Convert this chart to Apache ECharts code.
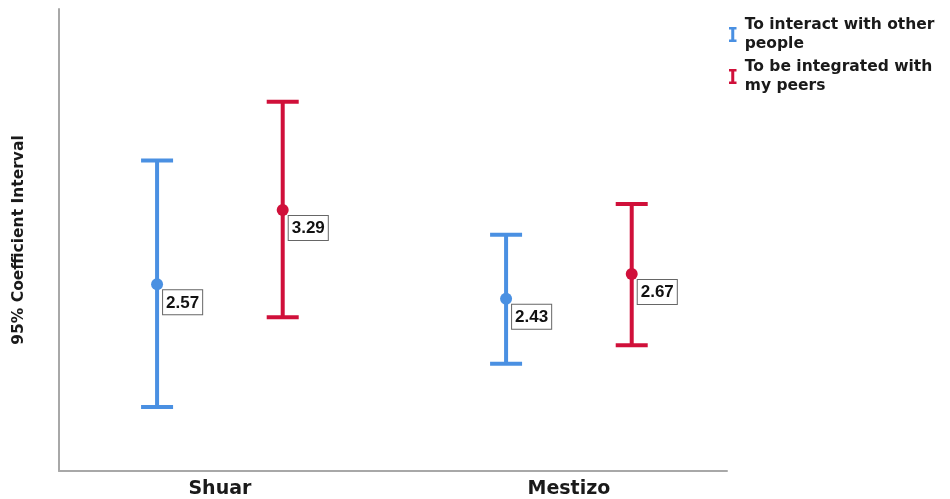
<!DOCTYPE html>
<html>
<head>
<meta charset="utf-8">
<script src="https://cdn.jsdelivr.net/npm/echarts@6/dist/echarts.min.js"></script>
<style>
  html, body { margin: 0; padding: 0; background: #fff; }
  #chart { width: 950px; height: 499px; }
</style>
</head>
<body>
<div id="chart"></div>
<script>
// Groups along the horizontal axis
const categories = ['Shuar', 'Mestizo'];

// "To interact with other people": mean and 95% interval bounds
const interactMean = [2.57, 2.43];
const interactLow  = [1.38, 1.80];
const interactHigh = [3.77, 3.05];

// "To be integrated with my peers": mean and 95% interval bounds
const integratedMean = [3.29, 2.67];
const integratedLow  = [2.25, 1.98];
const integratedHigh = [4.34, 3.35];

const seriesNames = ['To interact with other people', 'To be integrated with my peers'];
const legendLabels = ['To interact with other\npeople', 'To be integrated with\nmy peers'];
const colors = ['#4a90e2', '#d0103a'];

const wideFont = '"DejaVu Sans", sans-serif';
const valueFont = 'bold 17px "Liberation Sans", Arial, sans-serif';

function rows(mean, low, high) {
  return categories.map((c, i) => [i + 1, low[i], mean[i], high[i]]);
}

// Error bar: vertical stem, two caps, a dot at the mean and a boxed value label
function makeRenderer(offset, color) {
  return function (params, api) {
    const x = api.value(0) + offset;
    const lo = api.coord([x, api.value(1)]);
    const mid = api.coord([x, api.value(2)]);
    const hi = api.coord([x, api.value(3)]);
    const cap = 16;
    const line = { stroke: color, lineWidth: 4 };
    return {
      type: 'group',
      children: [
        { type: 'line', shape: { x1: hi[0], y1: hi[1], x2: lo[0], y2: lo[1] }, style: line },
        { type: 'line', shape: { x1: hi[0] - cap, y1: hi[1], x2: hi[0] + cap, y2: hi[1] }, style: line },
        { type: 'line', shape: { x1: lo[0] - cap, y1: lo[1], x2: lo[0] + cap, y2: lo[1] }, style: line },
        { type: 'circle', shape: { cx: mid[0], cy: mid[1], r: 6 }, style: { fill: color } },
        {
          type: 'text',
          x: mid[0] + 6,
          y: mid[1] + 6,
          style: {
            text: api.value(2).toFixed(2),
            font: valueFont,
            fill: '#111',
            align: 'left',
            verticalAlign: 'top',
            backgroundColor: '#fff',
            borderColor: '#666',
            borderWidth: 1,
            padding: [4, 3, 3, 3]
          }
        }
      ]
    };
  };
}

const chart = echarts.init(document.getElementById('chart'), null, { renderer: 'canvas' });

chart.setOption({
  animation: false,
  backgroundColor: '#fff',
  grid: { left: 59, right: 223, top: 9, bottom: 28 },
  legend: {
    orient: 'vertical',
    left: 724,
    top: 11,
    itemGap: 5,
    itemWidth: 14,
    itemHeight: 15,
    icon: 'path://M0,0H10V3.2H7V16.8H10V20H0V16.8H3V3.2H0Z',
    data: seriesNames,
    formatter: name => legendLabels[seriesNames.indexOf(name)],
    textStyle: {
      fontFamily: wideFont,
      fontWeight: 'bold',
      fontSize: 15.5,
      color: '#1a1a1a',
      lineHeight: 18.5
    }
  },
  xAxis: {
    type: 'value',
    min: 0.539,
    max: 2.453,
    splitLine: { show: false },
    axisTick: { show: false },
    axisLine: { lineStyle: { color: '#a8a8a8', width: 2 } },
    axisLabel: {
      customValues: [1, 2],
      formatter: v => categories[Math.round(v) - 1] || '',
      fontFamily: wideFont,
      fontWeight: 'bold',
      fontSize: 19,
      color: '#1a1a1a',
      margin: 9
    }
  },
  yAxis: {
    type: 'value',
    min: 0.76,
    max: 5.24,
    name: '95% Coefficient Interval',
    nameLocation: 'middle',
    nameGap: 32,
    nameTextStyle: {
      fontFamily: wideFont,
      fontWeight: 'bold',
      fontSize: 15.5,
      color: '#1a1a1a'
    },
    axisLine: { show: true, lineStyle: { color: '#a8a8a8', width: 2 } },
    axisTick: { show: false },
    axisLabel: { show: false },
    splitLine: { show: false }
  },
  series: [
    {
      name: seriesNames[0],
      type: 'custom',
      color: colors[0],
      itemStyle: { color: colors[0] },
      renderItem: makeRenderer(-0.18, colors[0]),
      encode: { x: 0, y: [1, 2, 3] },
      data: rows(interactMean, interactLow, interactHigh)
    },
    {
      name: seriesNames[1],
      type: 'custom',
      color: colors[1],
      itemStyle: { color: colors[1] },
      renderItem: makeRenderer(0.18, colors[1]),
      encode: { x: 0, y: [1, 2, 3] },
      data: rows(integratedMean, integratedLow, integratedHigh)
    }
  ]
});
</script>
</body>
</html>
